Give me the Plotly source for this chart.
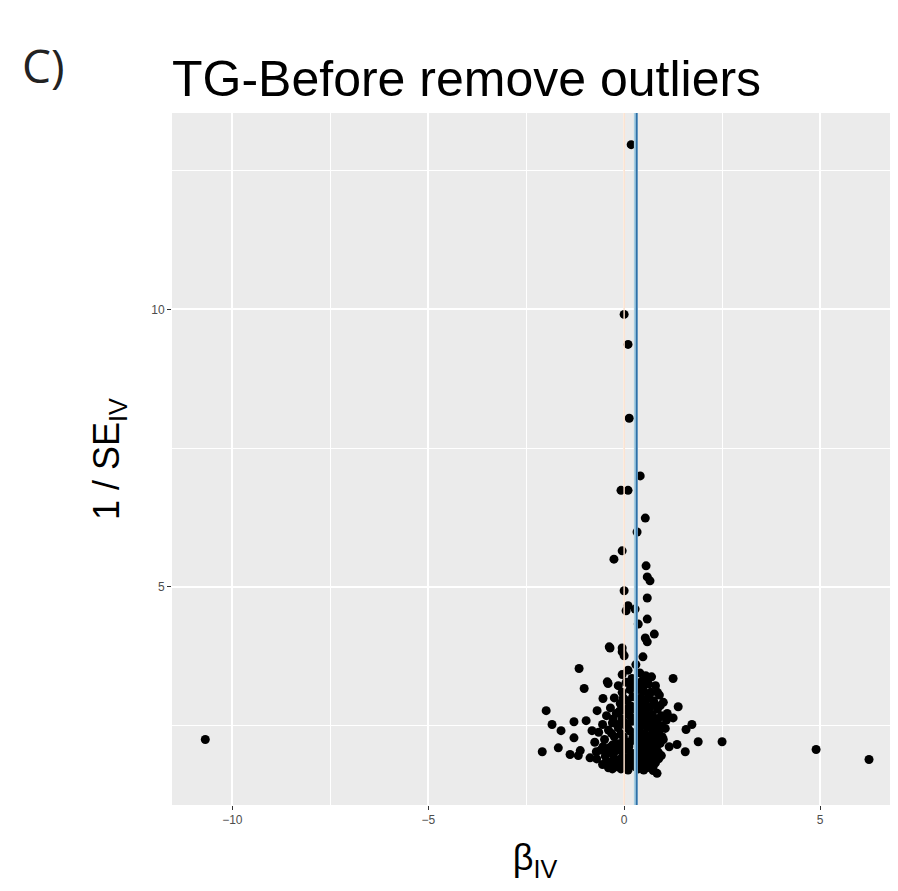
import plotly.graph_objects as go

# Wald ratio per SNP (beta_IV) and its precision (1/SE_IV)
beta_iv = [
    # isolated / upper points
    -10.69, 4.90, 6.25, 2.50,
    0.18, 0.00, 0.10, 0.13, 0.41, -0.08, 0.10, 0.54, 0.33,
    -0.05, -0.26, 0.56, 0.59, 0.66, 0.00, 0.59, 0.10, 0.05, 0.28,
    0.59, 0.36, 0.77, 0.54, 0.59, -0.38, -0.05, -0.36, -0.05, 0.00, 0.48,
    # spread around the cluster
    -1.15, 1.25, -0.43, -1.02, -0.54, -1.99, 1.38, 1.25, -1.84, -1.28,
    -1.61, 1.73, 1.58, 1.89, -1.28, -2.09, -1.68, -1.38, -1.12, -0.87,
    1.35, 1.56, 0.59, 0.74, 0.84, -0.97, -0.82, -1.17, -0.69, -0.41,
    -0.71, -0.54, 0.92,
    # right side of the core
    0.40, 0.55, 0.70, 0.45, 0.62, 0.80, 0.38, 0.50, 0.68, 0.90,
    0.42, 0.58, 0.75, 1.00, 0.36, 0.48, 0.65, 0.85, 0.40, 0.55,
    0.72, 0.95, 1.10, 0.38, 0.50, 0.62, 0.80, 0.45, 0.60, 0.75,
    0.90, 1.05, 0.37, 0.52, 0.68, 0.85, 0.42, 0.58, 0.73, 1.00,
    0.38, 0.50, 0.65, 0.82, 1.15, 0.44, 0.60, 0.78, 0.95, 0.40,
    0.55, 0.70, 0.88, 0.45, 0.62, 0.36, 0.50,
    0.47, 0.63, 0.77, 0.52, 0.43, 0.67, 0.86, 0.56, 0.71, 0.40,
    0.83, 0.64, 0.47, 0.76, 0.92, 0.55, 0.70, 0.40, 0.87, 0.50,
    0.65, 0.80, 0.58, 0.42, 0.74, 0.97, 1.08, 0.60, 0.85, 0.95,
    # left side of the core
    0.10, -0.05, 0.20, 0.05, -0.15, 0.15, -0.05, 0.22, -0.25, 0.08,
    -0.10, 0.18, -0.35, 0.00, -0.20, 0.12, -0.45, -0.05, 0.20, -0.30,
    -0.55, 0.05, -0.15, -0.40, 0.15, -0.65, -0.08, -0.25, 0.22, -0.50,
    0.02, -0.75, -0.18, 0.12, -0.38, -0.60, -0.05, 0.20, -0.28, -0.48,
    0.08, -0.15, -0.70, -0.35, 0.00, 0.18, -0.22, -0.55, -0.08, 0.10,
    -0.40,
    0.15, -0.02, 0.10, -0.12, 0.18, -0.28, 0.02, -0.18, 0.10, -0.32,
    -0.02, 0.15, -0.10, -0.30, 0.05, -0.20, -0.42, 0.14, -0.05, -0.25,
    0.05, -0.12, -0.45, 0.20, -0.30,
    # under the estimate lines
    0.30, 0.32, 0.28, 0.33, 0.29, 0.31,
]
inv_se = [
    2.25, 2.07, 1.89, 2.21,
    12.97, 9.91, 9.37, 8.04, 7.00, 6.74, 6.74, 6.24, 5.99,
    5.65, 5.50, 5.38, 5.18, 5.11, 4.93, 4.80, 4.66, 4.57, 4.60,
    4.42, 4.33, 4.15, 4.08, 4.01, 3.92, 3.90, 3.90, 3.83, 3.76, 3.74,
    3.53, 3.35, 3.29, 3.17, 2.99, 2.77, 2.84, 2.64, 2.52, 2.57,
    2.41, 2.52, 2.43, 2.21, 2.28, 2.03, 2.10, 1.98, 2.05, 1.92,
    2.16, 2.03, 1.76, 1.69, 1.64, 2.59, 2.41, 1.96, 2.77, 3.26,
    2.03, 2.12, 2.86,
    3.45, 3.40, 3.38, 3.30, 3.25, 3.22, 3.15, 3.12, 3.10, 3.05,
    3.00, 2.98, 2.95, 2.92, 2.88, 2.85, 2.83, 2.80, 2.75, 2.72,
    2.70, 2.68, 2.72, 2.62, 2.60, 2.58, 2.55, 2.50, 2.47, 2.45,
    2.42, 2.45, 2.40, 2.36, 2.33, 2.30, 2.27, 2.24, 2.21, 2.25,
    2.16, 2.13, 2.10, 2.08, 2.12, 2.03, 2.00, 1.98, 1.96, 1.92,
    1.88, 1.86, 1.90, 1.80, 1.78, 1.72, 1.70,
    3.20, 3.05, 2.90, 2.92, 2.68, 2.65, 2.62, 2.55, 2.52, 2.48,
    2.38, 2.30, 2.19, 2.15, 2.18, 2.06, 2.02, 2.05, 2.02, 1.95,
    1.92, 1.83, 1.74, 1.85, 1.76, 2.30, 2.60, 3.35, 3.10, 2.50,
    3.50, 3.42, 3.35, 3.28, 3.22, 3.15, 3.10, 3.02, 3.00, 2.95,
    2.90, 2.85, 2.82, 2.78, 2.72, 2.70, 2.68, 2.62, 2.58, 2.55,
    2.52, 2.50, 2.46, 2.42, 2.40, 2.38, 2.35, 2.30, 2.28, 2.25,
    2.22, 2.20, 2.16, 2.12, 2.10, 2.06, 2.04, 2.00, 1.98, 1.95,
    1.92, 1.88, 1.90, 1.84, 1.82, 1.78, 1.76, 1.80, 1.72, 1.70,
    1.74,
    3.25, 3.00, 2.82, 2.76, 2.65, 2.62, 2.55, 2.52, 2.45, 2.36,
    2.30, 2.20, 2.18, 2.15, 2.08, 2.05, 2.02, 1.95, 1.93, 1.90,
    1.86, 1.80, 1.86, 1.88, 1.72,
    3.60, 3.20, 2.80, 2.40, 2.00, 1.75,
]

# MR estimates drawn as vertical lines
method_est = [0.00, 0.30, 0.32]
method_col = ["#fbe0cc", "#a6cee3", "#2f6fa6"]

x_ticks = [-10, -5, 0, 5]
x_minor = [-7.5, -2.5, 2.5]
y_ticks = [5, 10]
y_minor = [2.5, 7.5, 12.5]

fig = go.Figure()

fig.add_trace(go.Scatter(
    x=beta_iv,
    y=inv_se,
    mode='markers',
    marker=dict(color='black', size=9),
    showlegend=False
))

widths = [1.5, 4, 1.8]
for est, col, w in zip(method_est, method_col, widths):
    fig.add_vline(x=est, line_color=col, line_width=w)

fig.add_annotation(
    x=-0.2094, y=1.069, xref='paper', yref='paper',
    text='C)', showarrow=False, xanchor='left', yanchor='middle',
    font=dict(family='Open Sans', size=46, color='#222222')
)

axis_common = dict(
    showgrid=True, gridcolor='white', gridwidth=1.5,
    zeroline=False, showline=False,
    ticks='outside', ticklen=4, tickcolor='#333333', tickwidth=1,
    tickfont=dict(family='Liberation Sans', size=12, color='#4D4D4D'),
)

# page body adds an 8px offset, so the figure is shifted/shrunk to fit the window
fig.update_layout(
    width=890, height=875,
    margin=dict(l=164, r=0, t=105, b=78, autoexpand=False),
    paper_bgcolor='white',
    plot_bgcolor='#EBEBEB',
    font=dict(family='Liberation Sans', color='black'),
    title=dict(
        text='TG-Before remove outliers',
        x=164/890, xanchor='left', y=1 - 70/875, yanchor='middle',
        font=dict(family='Liberation Sans', size=50, color='black')
    ),
    xaxis=dict(
        range=[-11.54, 6.99],
        tickvals=x_ticks,
        minor=dict(tickvals=x_minor, showgrid=True, gridcolor='white',
                   gridwidth=0.7, ticks=''),
        title=dict(text='β<sub>IV</sub>', standoff=20,
                   font=dict(family='Liberation Sans', size=36)),
        **axis_common
    ),
    yaxis=dict(
        range=[1.07, 13.54],
        tickvals=y_ticks,
        minor=dict(tickvals=y_minor, showgrid=True, gridcolor='white',
                   gridwidth=0.7, ticks=''),
        title=dict(text='1 / SE<sub>IV</sub>', standoff=20,
                   font=dict(family='Liberation Sans', size=36)),
        **axis_common
    ),
)

fig.write_html("out.html")
